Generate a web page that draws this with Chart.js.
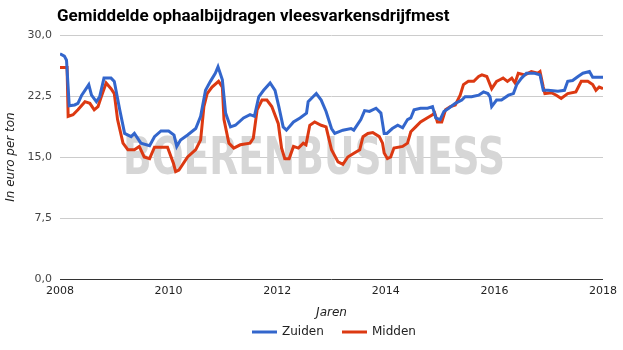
<!DOCTYPE html>
<html>
<head>
<meta charset="utf-8">
<script src="https://cdn.jsdelivr.net/npm/chart.js@4"></script>
<style>
  html, body { margin: 0; padding: 0; background: #fff; }
  #wrap { width: 623px; height: 350px; }
</style>
</head>
<body>
<div id="wrap"><canvas id="mestChart" width="623" height="350"></canvas></div>
<script>
// data (decimal years, euro per ton)
const zuidenJaar = [2008.00, 2008.08, 2008.12, 2008.17, 2008.27, 2008.33, 2008.40, 2008.46, 2008.53, 2008.58, 2008.67, 2008.73, 2008.81, 2008.94,
    2009.00, 2009.10, 2009.19, 2009.31, 2009.37, 2009.49, 2009.65, 2009.74, 2009.86, 2010.00, 2010.10, 2010.15, 2010.22, 2010.35, 2010.50,
    2010.59, 2010.68, 2010.77, 2010.86, 2010.91, 2010.99, 2011.05, 2011.14, 2011.23, 2011.38, 2011.50, 2011.58, 2011.66, 2011.75, 2011.87,
    2011.96, 2012.03, 2012.11, 2012.17, 2012.30, 2012.42, 2012.54, 2012.57, 2012.66, 2012.72, 2012.81, 2012.90, 2013.00, 2013.06, 2013.21,
    2013.36, 2013.41, 2013.54, 2013.61, 2013.70, 2013.82, 2013.91, 2013.97, 2014.02, 2014.12, 2014.22, 2014.31, 2014.40, 2014.46, 2014.52,
    2014.64, 2014.77, 2014.86, 2014.92, 2015.00, 2015.07, 2015.16, 2015.28, 2015.40, 2015.46, 2015.58, 2015.71, 2015.80, 2015.88, 2015.92,
    2015.95, 2016.04, 2016.13, 2016.26, 2016.35, 2016.41, 2016.50, 2016.59, 2016.74, 2016.84, 2016.90, 2016.99, 2017.17, 2017.29, 2017.35,
    2017.44, 2017.54, 2017.63, 2017.75, 2017.81, 2017.90, 2018.00];
const zuidenWaarde = [27.7, 27.4, 26.9, 21.3, 21.4, 21.6, 22.6, 23.2, 23.9, 22.6, 21.8, 22.4, 24.7, 24.7,
    24.3, 20.8, 17.9, 17.5, 17.9, 16.7, 16.4, 17.5, 18.2, 18.2, 17.7, 16.3, 17.1, 17.7, 18.5,
    20.0, 23.2, 24.3, 25.3, 26.1, 24.5, 20.4, 18.7, 18.9, 19.8, 20.2, 20.0, 22.4, 23.2, 24.1,
    23.2, 21.2, 18.7, 18.3, 19.3, 19.8, 20.4, 21.8, 22.4, 22.8, 22.0, 20.6, 18.5, 17.9, 18.3,
    18.5, 18.3, 19.6, 20.7, 20.6, 21.0, 20.4, 17.9, 17.9, 18.5, 18.9, 18.6, 19.6, 19.8, 20.8,
    21.0, 21.0, 21.2, 19.8, 19.6, 20.6, 21.0, 21.6, 22.0, 22.4, 22.4, 22.6, 23.0, 22.8, 22.4,
    21.2, 22.0, 22.0, 22.6, 22.8, 23.9, 24.7, 25.3, 25.3, 25.1, 23.2, 23.2, 23.1, 23.2, 24.3,
    24.4, 24.9, 25.3, 25.5, 24.8, 24.8, 24.8];

const middenJaar = [2008.00, 2008.13, 2008.15, 2008.24, 2008.33, 2008.46, 2008.55, 2008.63, 2008.70, 2008.76, 2008.85, 2008.94,
    2009.00, 2009.06, 2009.16, 2009.25, 2009.37, 2009.46, 2009.55, 2009.65, 2009.74, 2009.98, 2010.09, 2010.13, 2010.19, 2010.35,
    2010.50, 2010.59, 2010.65, 2010.71, 2010.80, 2010.92, 2010.99, 2011.02, 2011.11, 2011.20, 2011.32, 2011.50, 2011.56, 2011.63,
    2011.72, 2011.81, 2011.90, 2012.02, 2012.08, 2012.14, 2012.22, 2012.30, 2012.39, 2012.48, 2012.53, 2012.60, 2012.69, 2012.81,
    2012.90, 2013.00, 2013.12, 2013.21, 2013.30, 2013.42, 2013.52, 2013.58, 2013.67, 2013.76, 2013.88, 2013.94, 2013.97, 2014.03,
    2014.09, 2014.15, 2014.31, 2014.40, 2014.46, 2014.55, 2014.64, 2014.76, 2014.86, 2014.90, 2014.95, 2015.03, 2015.10, 2015.19,
    2015.28, 2015.37, 2015.43, 2015.52, 2015.62, 2015.71, 2015.77, 2015.86, 2015.92, 2015.95, 2016.04, 2016.10, 2016.16, 2016.24,
    2016.32, 2016.38, 2016.44, 2016.56, 2016.68, 2016.80, 2016.84, 2016.90, 2016.93, 2017.05, 2017.14, 2017.23, 2017.35, 2017.50,
    2017.60, 2017.72, 2017.81, 2017.87, 2017.93, 2018.00];
const middenWaarde = [26.0, 26.0, 20.0, 20.2, 20.8, 21.8, 21.6, 20.8, 21.2, 22.4, 24.1, 23.4,
    22.8, 19.6, 16.7, 15.9, 15.9, 16.3, 15.0, 14.8, 16.2, 16.2, 14.2, 13.2, 13.4, 15.0,
    15.9, 17.1, 21.2, 22.8, 23.6, 24.3, 23.6, 19.6, 16.7, 16.1, 16.5, 16.7, 17.3, 20.8,
    22.0, 22.0, 21.2, 19.1, 16.1, 14.8, 14.8, 16.3, 16.1, 16.7, 16.5, 18.9, 19.3, 18.9,
    18.7, 15.9, 14.4, 14.1, 15.0, 15.5, 15.9, 17.5, 17.9, 18.0, 17.5, 16.7, 15.5, 14.8,
    15.0, 16.1, 16.3, 16.7, 18.1, 18.7, 19.3, 19.8, 20.2, 20.4, 19.3, 19.3, 20.8, 21.2,
    21.4, 22.6, 23.9, 24.3, 24.3, 24.9, 25.1, 24.9, 23.9, 23.4, 24.3, 24.5, 24.7, 24.3,
    24.7, 24.1, 25.3, 25.1, 25.5, 25.3, 25.5, 23.6, 22.8, 22.9, 22.6, 22.2, 22.8, 23.0,
    24.3, 24.3, 23.9, 23.2, 23.6, 23.4];

const reeksNamen = ['Zuiden', 'Midden'];
const reeksKleuren = ['#3366cc', '#dc3912'];
const yTicks = [0, 7.5, 15, 22.5, 30];
const xTicks = [2008, 2010, 2012, 2014, 2016, 2018];

const titel = 'Gemiddelde ophaalbijdragen vleesvarkensdrijfmest';
const watermerk = 'BOERENBUSINESS';

function punten(jaren, waarden) {
    return jaren.map((j, i) => ({ x: j, y: waarden[i] }));
}

// title, watermark and legend are drawn by hand
const extras = {
    id: 'extras',
    beforeDatasetsDraw(chart) {
        const ctx = chart.ctx;
        const a = chart.chartArea;
        ctx.save();
        ctx.fillStyle = '#d6d6d6';
        ctx.font = 'bold 51px "DejaVu Sans"';
        ctx.textBaseline = 'alphabetic';
        ctx.textAlign = 'left';
        ctx.fillText(watermerk, a.left + 63, a.top + 139, 382);
        ctx.restore();
    },
    afterDraw(chart) {
        const ctx = chart.ctx;
        ctx.save();
        ctx.fillStyle = '#000';
        ctx.font = 'bold 17px Roboto';
        ctx.textBaseline = 'alphabetic';
        ctx.textAlign = 'left';
        ctx.fillText(titel, 57, 21, 396);

        // legend
        ctx.font = '12px "DejaVu Sans"';
        ctx.textBaseline = 'middle';
        const ly = 332;
        const startX = [252, 342];
        chart.data.datasets.forEach((ds, i) => {
            const x = startX[i];
            ctx.strokeStyle = ds.borderColor;
            ctx.lineWidth = 3;
            ctx.beginPath();
            ctx.moveTo(x, ly);
            ctx.lineTo(x + 25, ly);
            ctx.stroke();
            ctx.fillStyle = '#222';
            ctx.fillText(ds.label, x + 30, ly);
        });
        ctx.restore();
    }
};

const ctx = document.getElementById('mestChart').getContext('2d');
const chart = new Chart(ctx, {
    type: 'line',
    data: {
        datasets: [{
            label: reeksNamen[0],
            data: punten(zuidenJaar, zuidenWaarde),
            borderColor: reeksKleuren[0],
            backgroundColor: reeksKleuren[0],
            borderWidth: 3,
            pointRadius: 0,
            tension: 0,
            fill: false
        }, {
            label: reeksNamen[1],
            data: punten(middenJaar, middenWaarde),
            borderColor: reeksKleuren[1],
            backgroundColor: reeksKleuren[1],
            borderWidth: 3,
            pointRadius: 0,
            tension: 0,
            fill: false
        }]
    },
    options: {
        responsive: false,
        animation: false,
        layout: { padding: { top: 35, right: 16, left: 0, bottom: 30 } },
        plugins: {
            legend: { display: false },
            title: { display: false },
            tooltip: { enabled: false }
        },
        scales: {
            x: {
                type: 'linear',
                min: 2008,
                max: 2018,
                afterFit: s => { s.height = 41; },
                afterBuildTicks: s => { s.ticks = xTicks.map(v => ({ value: v })); },
                grid: { display: false, drawTicks: false },
                border: { display: false },
                ticks: {
                    padding: 6,
                    color: '#222',
                    font: { family: 'DejaVu Sans', size: 11 },
                    callback: v => String(v)
                },
                title: {
                    display: true,
                    text: 'Jaren',
                    color: '#222',
                    padding: { top: 0, bottom: 0 },
                    font: { family: 'DejaVu Sans', size: 12, style: 'italic' }
                }
            },
            y: {
                min: 0,
                max: 30,
                afterFit: s => { s.width = 60; },
                afterBuildTicks: s => { s.ticks = yTicks.map(v => ({ value: v })); },
                grid: {
                    drawTicks: false,
                    color: c => c.tick && c.tick.value === 0 ? '#333' : '#cccccc'
                },
                border: { display: false },
                ticks: {
                    padding: 8,
                    color: '#444',
                    font: { family: 'DejaVu Sans', size: 11 },
                    callback: v => v.toFixed(1).replace('.', ',')
                },
                title: {
                    display: true,
                    text: 'In euro per ton',
                    color: '#222',
                    padding: { top: 4, bottom: 0 },
                    font: { family: 'DejaVu Sans', size: 12, style: 'italic' }
                }
            }
        }
    },
    plugins: [extras]
});
</script>
</body>
</html>
